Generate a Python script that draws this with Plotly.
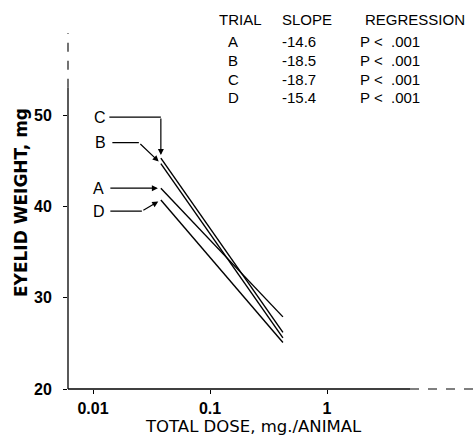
import math
import plotly.graph_objects as go

# ---- data ----
trials = ["A", "B", "C", "D"]
dose = [0.038, 0.42]                      # mg/animal, start and end of each regression line
weight_A = [42.0, 27.9]
weight_B = [44.7, 25.6]
weight_C = [45.3, 26.2]
weight_D = [40.7, 25.1]
slopes = ["-14.6", "-18.5", "-18.7", "-15.4"]
regression = ["P <  .001", "P <  .001", "P <  .001", "P <  .001"]
x_tickvals = [0.01, 0.1, 1]
x_ticktext = ["0.01", "0.1", "1"]
y_tickvals = [20, 30, 40, 50]

weights = {"A": weight_A, "B": weight_B, "C": weight_C, "D": weight_D}

W, H = 473, 438
ML, MR, MT, MB = 68, 0, 33, 49
PW, PH = W - ML - MR, H - MT - MB

def px_x(p):
    return (p - ML) / PW

def px_y(p):
    return (H - MB - p) / PH

TICKFONT = dict(family="Liberation Sans, Arial", size=16, color="black", weight="bold")
TXTFONT = dict(family="Liberation Sans, Arial", size=15, color="black")

fig = go.Figure()
for t in trials:
    fig.add_trace(go.Scatter(x=dose, y=weights[t], mode="lines",
                             line=dict(color="black", width=1.4),
                             showlegend=False, hoverinfo="skip"))

# leader styling per trial: label offset, elbow segment (x_from, x_to, y), arrow tail (pixels, screen)
leaders = {
    "C": dict(lab=(-61, 41), seg=(-53, 0, -41), tail=(0, -41)),
    "B": dict(lab=(-60, 21), seg=(-50, -22, -21), tail=(-22, -21)),
    "A": dict(lab=(-62, 0), seg=None, tail=(-52, 0)),
    "D": dict(lab=(-62, -11), seg=(-52, -19, 11), tail=(-19, 11)),
}

annotations = []
for t in trials:
    x0, y0 = dose[0], weights[t][0]
    lx = math.log10(x0)
    L = leaders[t]
    annotations.append(dict(x=lx, y=y0, xref="x", yref="y", text=t,
                            showarrow=False, xshift=L["lab"][0], yshift=L["lab"][1],
                            xanchor="center", yanchor="middle",
                            font=dict(family="Liberation Sans, Arial", size=16, color="black")))
    annotations.append(dict(x=lx, y=y0, xref="x", yref="y", text="",
                            showarrow=True, ax=L["tail"][0], ay=L["tail"][1],
                            axref="pixel", ayref="pixel", arrowhead=2, arrowsize=1,
                            arrowwidth=1.2, arrowcolor="black", standoff=3))
    if L["seg"] is not None:
        a, b, yy = L["seg"]
        annotations.append(dict(x=lx, y=y0, xref="x", yref="y", text="",
                                showarrow=True, arrowhead=0, arrowwidth=1.2,
                                arrowcolor="black", standoff=0,
                                xshift=b, yshift=-yy, ax=a - b, ay=0,
                                axref="pixel", ayref="pixel"))

# table at top right
col_x = [233, 299, 390]
hdr_x = [240, 307, 415]
row_y = [19, 41, 60, 79, 98]
for txt, cx in zip(["TRIAL", "SLOPE", "REGRESSION"], hdr_x):
    annotations.append(dict(x=px_x(cx), y=px_y(row_y[0]), xref="paper", yref="paper",
                            xanchor="center", yanchor="middle",
                            text=txt, showarrow=False, font=TXTFONT))
for i, t in enumerate(trials):
    for txt, cx in zip([t, slopes[i], regression[i]], col_x):
        annotations.append(dict(x=px_x(cx), y=px_y(row_y[i + 1]), xref="paper",
                                yref="paper", xanchor="center", yanchor="middle",
                                text=txt, showarrow=False, font=TXTFONT))

# axis titles
annotations.append(dict(x=px_x(253), y=px_y(426), xref="paper", yref="paper",
                        xanchor="center", yanchor="middle",
                        text="TOTAL DOSE, mg./ANIMAL", showarrow=False,
                        font=dict(family="DejaVu Sans", size=16.5, color="black")))
annotations.append(dict(x=px_x(21), y=px_y(203), xref="paper", yref="paper",
                        xanchor="center", yanchor="middle",
                        text="EYELID WEIGHT, mg", showarrow=False, textangle=-90,
                        font=dict(family="DejaVu Sans", size=17, color="black", weight="bold")))

# axis lines: solid where the print is solid, broken where the print fades
AX = dict(color="black", width=1.3)
shapes = [
    dict(type="line", xref="paper", yref="y", x0=0, x1=0, y0=20, y1=53, line=AX),
    dict(type="line", xref="paper", yref="y", x0=0, x1=0, y0=53, y1=59,
         line=dict(color="black", width=1.1, dash="dash")),
    dict(type="line", xref="paper", yref="paper", x0=0, x1=px_x(410), y0=0, y1=0, line=AX),
    dict(type="line", xref="paper", yref="paper", x0=px_x(410), x1=1, y0=0, y1=0,
         line=dict(color="black", width=1.1, dash="dash")),
]

fig.update_layout(
    width=W, height=H,
    margin=dict(l=ML, r=MR, t=MT, b=MB),
    paper_bgcolor="white", plot_bgcolor="white",
    showlegend=False,
    annotations=annotations,
    shapes=shapes,
    xaxis=dict(type="log", range=[-2.214, 1.248], tickvals=x_tickvals, ticktext=x_ticktext,
               showgrid=False, zeroline=False, showline=False,
               ticks="outside", ticklen=4, tickcolor="black",
               tickfont=TICKFONT, ticklabelstandoff=1),
    yaxis=dict(range=[20, 59], tickvals=y_tickvals, showgrid=False, zeroline=False,
               showline=False, ticks="outside",
               ticklen=4, tickcolor="black", tickfont=TICKFONT, ticklabelstandoff=8),
)

fig.write_html("out.html")
